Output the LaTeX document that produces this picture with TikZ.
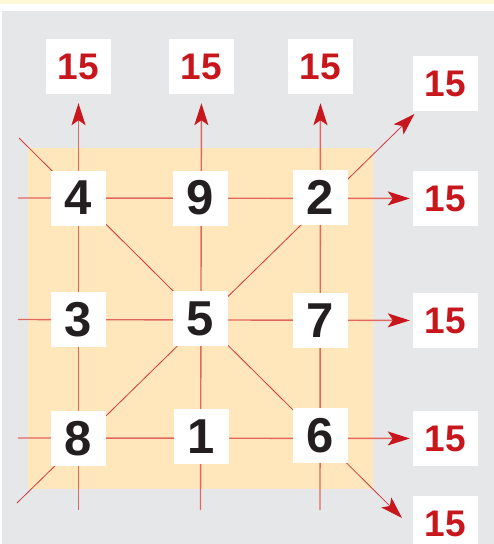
\documentclass[tikz,border=0pt]{standalone}
\usepackage{fontspec}
\setmainfont{Liberation Sans}
\usetikzlibrary{arrows.meta}
\definecolor{topband}{HTML}{FFF9D8}
\definecolor{panelgray}{HTML}{E6E7E9}
\definecolor{squareorange}{HTML}{FFE7BB}
\definecolor{numblack}{HTML}{231F20}
\definecolor{sumred}{HTML}{C8161D}
\definecolor{linered}{HTML}{E3675F}

\begin{document}
\begin{tikzpicture}[
      x=1pt, y=-1pt,
      >={Stealth[length=22pt, width=14pt, inset=5pt, color=sumred]},
      cell/.style={
        fill=white, inner sep=0pt, minimum width=55pt, minimum height=55pt,
        text=numblack, font=\fontsize{49}{49}\selectfont\bfseries
      },
      total/.style={
        fill=white, inner sep=0pt, minimum width=65pt, minimum height=55pt,
        text=sumred, font=\fontsize{37}{37}\selectfont\bfseries
      },
      gridline/.style={draw=linered, line width=1.4pt},
      diagline/.style={draw=sumred!85!white, line width=0.8pt}
    ]
    \useasboundingbox (0,0) rectangle (494,544);
    \clip (0,0) rectangle (494,544);
    \fill[topband] (0,0) rectangle (494,4);
    \fill[panelgray] (2,11) rectangle (494,544);
    \fill[squareorange] (28,148) rectangle (373,489);

    \node[total] (sc1) at (78.5,66.5)   {15};
    \node[total] (sc2) at (201.5,66.5)  {15};
    \node[total] (sc3) at (320.5,66.5)  {15};
    \node[total] (sd1) at (445.5,83.5)  {15};
    \node[total] (sr1) at (445.5,198.5) {15};
    \node[total] (sr2) at (445.5,320.5) {15};
    \node[total] (sr3) at (445.5,438.5) {15};
    \node[total] (sd2) at (445.5,523.5) {15};

    \coordinate (bc1) at (78.5,510);
    \coordinate (bc2) at (200.5,510);
    \coordinate (bc3) at (320,510);
    \coordinate (lr1) at (18,198);
    \coordinate (lr2) at (18,319.5);
    \coordinate (lr3) at (18,438);
    \coordinate (ld1) at (17,503);
    \coordinate (ld2) at (19,138);
    \coordinate (tip2) at (402,518);

    \foreach \a/\b in {bc1/sc1, bc2/sc2, bc3/sc3}
      \draw[gridline, ->, shorten >=9pt] (\a) -- (\b);
    \foreach \a/\b in {lr1/sr1, lr2/sr2, lr3/sr3}
      \draw[gridline, ->, shorten >=3pt] (\a) -- (\b);
    \draw[diagline, ->, shorten >=4pt] (ld1) -- (sd1);
    \draw[diagline, ->] (ld2) -- (tip2);

    \foreach \v/\x/\y in {4/78.5/198, 9/200/198, 2/320/197,
                          3/78/319.5, 5/200.5/318.5, 7/320/320.5,
                          8/78.5/438.5, 1/201.5/436.5, 6/320/435.5}
      \node[cell] (n\v) at (\x,\y) {\v};
  \end{tikzpicture}
\end{document}
